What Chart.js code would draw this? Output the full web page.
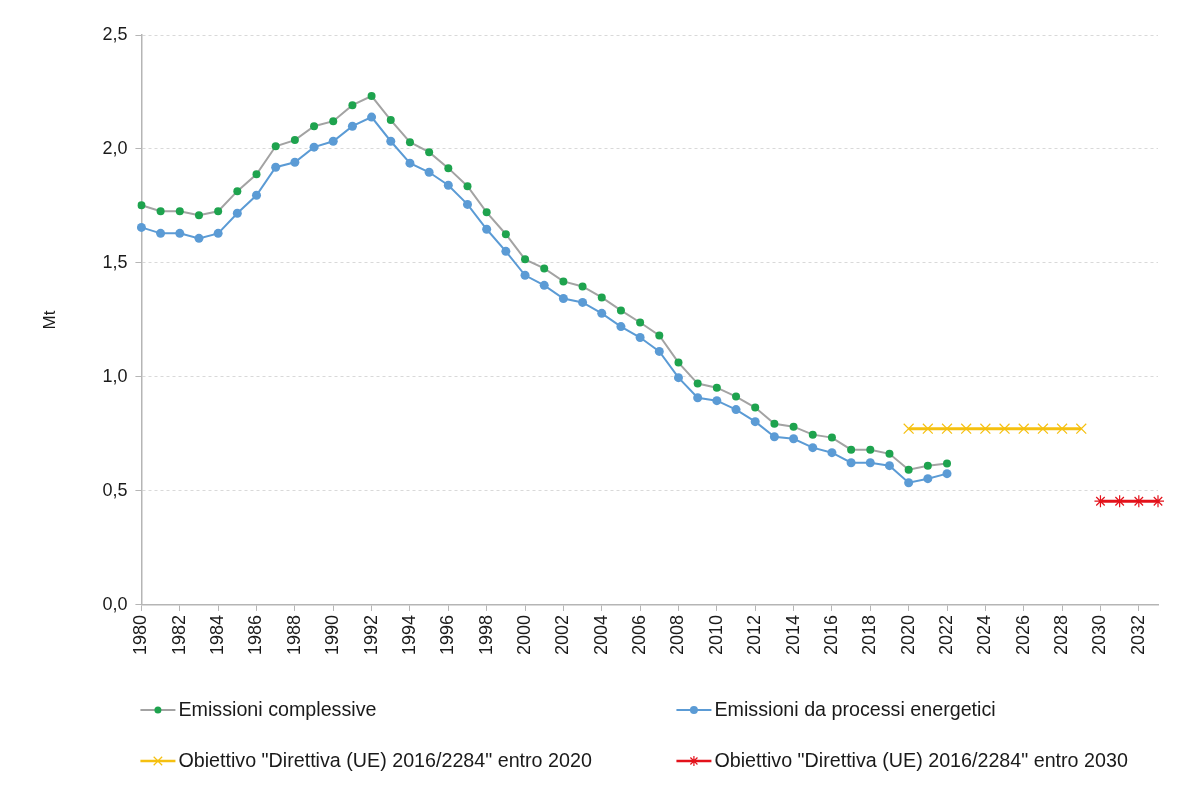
<!DOCTYPE html>
<html>
<head>
<meta charset="utf-8">
<script src="https://cdn.jsdelivr.net/npm/chart.js@4.4.1/dist/chart.umd.min.js"></script>
<style>
  html, body { margin: 0; padding: 0; background: #fff; }
  #wrap { width: 1200px; height: 789px; position: relative; }
</style>
</head>
<body>
<div id="wrap"><canvas id="graphic"></canvas></div>
<script>
// years on the x axis (1980 .. 2033)
const years = [];
for (let y = 1980; y <= 2033; y++) years.push(String(y));

// Emissioni complessive 1980-2022 (Mt)
const totalEmissions = [
  1.753, 1.727, 1.727, 1.709, 1.727, 1.815, 1.889, 2.012, 2.039, 2.100,
  2.122, 2.192, 2.232, 2.127, 2.030, 1.986, 1.916, 1.837, 1.722, 1.626,
  1.516, 1.476, 1.419, 1.397, 1.349, 1.292, 1.239, 1.182, 1.063, 0.971,
  0.953, 0.914, 0.866, 0.795, 0.782, 0.747, 0.734, 0.681, 0.681, 0.663,
  0.593, 0.611, 0.620
];

// Emissioni da processi energetici 1980-2022 (Mt)
const energyEmissions = [
  1.656, 1.630, 1.630, 1.608, 1.630, 1.718, 1.797, 1.920, 1.942, 2.008,
  2.034, 2.100, 2.140, 2.034, 1.938, 1.898, 1.841, 1.757, 1.648, 1.551,
  1.446, 1.402, 1.344, 1.327, 1.279, 1.221, 1.173, 1.112, 0.997, 0.909,
  0.896, 0.857, 0.804, 0.738, 0.729, 0.690, 0.668, 0.624, 0.624, 0.611,
  0.536, 0.554, 0.576
];

// targets
const target2020Years = ['2020', '2021', '2022', '2023', '2024', '2025', '2026', '2027', '2028', '2029'];
const target2020Value = 0.773;
const target2030Years = ['2030', '2031', '2032', '2033'];
const target2030Value = 0.455;

const toPoints = (labels, value) => labels.map((x) => ({ x, y: value }));

const FONT = "'Liberation Sans', Arial, sans-serif";

const legendPlugin = {
  id: 'bottomLegend',
  afterDraw(chart) {
    const { ctx, chartArea } = chart;
    const slots = [
      [chartArea.left - 1, 710], [chartArea.left + 535, 710],
      [chartArea.left - 1, 761], [chartArea.left + 535, 761],
    ];
    chart.data.datasets.forEach((ds, i) => {
      const [x, y] = slots[i];
      ctx.save();
      ctx.strokeStyle = ds.borderColor;
      ctx.lineWidth = ds.legendLine;
      ctx.beginPath();
      ctx.moveTo(x, y);
      ctx.lineTo(x + 35, y);
      ctx.stroke();
      ctx.fillStyle = ds.pointBackgroundColor;
      ctx.strokeStyle = ds.pointBorderColor;
      ctx.lineWidth = 1.2;
      if (ds.pointStyle === 'circle') {
        ctx.beginPath();
        ctx.arc(x + 17.5, y, ds.legendRadius, 0, Math.PI * 2);
        ctx.fill();
      } else {
        Chart.helpers.drawPoint(ctx, {
          pointStyle: ds.pointStyle,
          radius: ds.legendRadius,
          borderWidth: 1.2,
        }, x + 17.5, y);
      }
      ctx.restore();
      ctx.save();
      ctx.fillStyle = '#1a1a1a';
      ctx.font = '19.7px ' + FONT;
      ctx.textBaseline = 'middle';
      ctx.fillText(ds.label, x + 38, y + 1);
      ctx.restore();
    });
  },
};

const ctx = document.querySelector('#graphic').getContext('2d');
const graphic = new Chart(ctx, {
  type: 'line',
  data: {
    labels: years,
    datasets: [
      {
        label: 'Emissioni complessive',
        data: totalEmissions,
        borderColor: '#a3a3a3',
        borderWidth: 2,
        legendLine: 2,
        pointStyle: 'circle',
        pointRadius: 4,
        legendRadius: 3.5,
        pointBackgroundColor: '#1ea34e',
        pointBorderColor: '#1ea34e',
        pointBorderWidth: 0,
      },
      {
        label: 'Emissioni da processi energetici',
        data: energyEmissions,
        borderColor: '#5b9bd5',
        borderWidth: 2,
        legendLine: 2,
        pointStyle: 'circle',
        pointRadius: 4.5,
        legendRadius: 4,
        pointBackgroundColor: '#5b9bd5',
        pointBorderColor: '#5b9bd5',
        pointBorderWidth: 0,
      },
      {
        label: 'Obiettivo "Direttiva (UE) 2016/2284" entro 2020',
        data: toPoints(target2020Years, target2020Value),
        borderColor: '#f5c010',
        borderWidth: 3,
        legendLine: 2.5,
        pointStyle: 'crossRot',
        pointRadius: 7,
        legendRadius: 6,
        pointBackgroundColor: '#f5c010',
        pointBorderColor: '#f5c010',
        pointBorderWidth: 1.2,
      },
      {
        label: 'Obiettivo "Direttiva (UE) 2016/2284" entro 2030',
        data: toPoints(target2030Years, target2030Value),
        borderColor: '#e3121b',
        borderWidth: 3,
        legendLine: 2.5,
        pointStyle: 'star',
        pointRadius: 6,
        legendRadius: 5,
        pointBackgroundColor: '#e3121b',
        pointBorderColor: '#e3121b',
        pointBorderWidth: 1.2,
      },
    ],
  },
  options: {
    responsive: true,
    maintainAspectRatio: false,
    animation: false,
    layout: { padding: { top: 35, right: 42, bottom: 130, left: 36 } },
    plugins: {
      legend: { display: false },
      tooltip: { enabled: false },
    },
    scales: {
      x: {
        type: 'category',
        offset: false,
        grid: {
          drawOnChartArea: false,
          drawTicks: true,
          tickLength: 6,
          tickColor: (c) => (c.index % 2 === 0 ? '#b5b5b5' : 'rgba(0,0,0,0)'),
        },
        border: { color: '#b5b5b5', width: 1.5 },
        ticks: {
          autoSkip: false,
          minRotation: 90,
          maxRotation: 90,
          padding: 4,
          color: '#1a1a1a',
          font: { family: FONT, size: 18 },
          callback(value, index) {
            return index % 2 === 0 ? this.getLabelForValue(value) : '';
          },
        },
      },
      y: {
        min: 0,
        max: 2.5,
        ticks: {
          stepSize: 0.5,
          padding: 8,
          color: '#1a1a1a',
          font: { family: FONT, size: 18 },
          callback: (v) => v.toFixed(1).replace('.', ','),
        },
        grid: {
          color: '#d9d9d9',
          tickColor: '#b5b5b5',
          tickLength: 6,
          lineWidth: 1,
        },
        border: { color: '#b5b5b5', width: 1.5, dash: [3, 3] },
        title: {
          display: true,
          text: 'Mt',
          color: '#1a1a1a',
          font: { family: FONT, size: 17 },
          padding: { bottom: 34 },
        },
      },
    },
  },
  plugins: [legendPlugin],
});
graphic.render();
</script>
</body>
</html>
